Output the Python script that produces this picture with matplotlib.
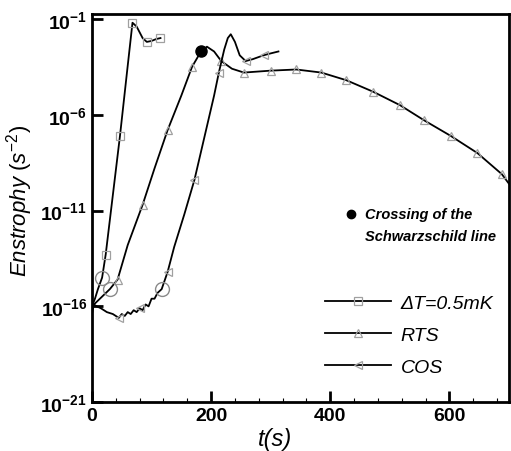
import numpy as np
import matplotlib
matplotlib.use("Agg")
import matplotlib.pyplot as plt
from matplotlib.ticker import FixedLocator, MultipleLocator, FuncFormatter

plt.rcParams['font.family'] = ['Liberation Sans', 'DejaVu Sans']
plt.rcParams['mathtext.fontset'] = 'custom'
plt.rcParams['mathtext.rm'] = 'Liberation Sans'
plt.rcParams['mathtext.it'] = 'Liberation Sans:italic'
plt.rcParams['mathtext.bf'] = 'Liberation Sans:bold'

# data: time (s) and log10 of enstrophy
t_dT = [0, 5, 10, 17, 23, 35, 47, 58, 68, 75, 85, 92, 100, 108, 115]
log_dT = [-16.0, -15.6, -15.1, -14.5, -13.3, -10.2, -7.1, -4.0, -1.2, -1.4, -2.0, -2.2, -2.15, -2.05, -2.0]

t_rts = [0, 10, 20, 30, 43, 60, 85, 105, 127, 150, 168, 183, 193, 205, 217, 235, 255,
         300, 343, 385, 427, 472, 517, 558, 602, 647, 688, 700]
log_rts = [-16.0, -15.7, -15.4, -15.1, -14.6, -12.8, -10.7, -8.8, -6.8, -5.0, -3.5, -2.7, -2.45,
           -2.7, -3.2, -3.6, -3.8, -3.7, -3.64, -3.8, -4.2, -4.8, -5.5, -6.3, -7.1, -8.0, -9.1, -9.6]

t_cos = [0, 3, 8, 15, 25, 35, 45, 50, 55, 60, 65, 70, 75, 80, 85, 90, 95, 100, 105, 110, 117,
         127, 138, 155, 172, 190, 205, 213, 222, 228, 233, 240, 248, 258, 270, 288, 300, 313]
log_cos = [-16.4, -15.9, -16.0, -16.1, -16.3, -16.4, -16.6, -16.4, -16.5, -16.3, -16.4, -16.2,
           -16.3, -16.1, -16.2, -15.9, -16.0, -15.6, -15.6, -15.3, -15.1, -14.2, -12.9, -11.2,
           -9.4, -7.0, -5.0, -3.8, -2.6, -2.0, -1.8, -2.2, -2.9, -3.2, -3.1, -2.9, -2.8, -2.7]

# open circles on the early part of each curve
t_circ = [17, 30, 117]
log_circ = [-14.5, -15.1, -15.1]

# crossing of the Schwarzschild line
t_cross = 183
log_cross = -2.7

fig = plt.figure(figsize=(5.11, 4.52), dpi=100)
ax = fig.add_axes([0.18, 0.108, 0.816, 0.859])

mk = dict(markerfacecolor='none', markeredgecolor='#a0a0a0', markersize=5.5, markeredgewidth=0.9)
l1, = ax.plot(t_dT, 10.0 ** np.array(log_dT), color='black', lw=1.3, marker='s',
              markevery=[4, 6, 8, 11, 14], **mk)
l2, = ax.plot(t_rts, 10.0 ** np.array(log_rts), color='black', lw=1.3, marker='^',
              markevery=[4, 6, 8, 10, 14, 16, 17, 18, 19, 20, 21, 22, 23, 24, 25, 26], **mk)
l3, = ax.plot(t_cos, 10.0 ** np.array(log_cos), color='black', lw=1.3, marker='<',
              markevery=[6, 13, 21, 24, 27, 33, 35], **mk)
ax.plot(t_circ, 10.0 ** np.array(log_circ), ls='none', marker='o', markersize=10,
        markerfacecolor='none', markeredgecolor='#8a8a8a', markeredgewidth=1.0)
ax.plot([t_cross], [10.0 ** log_cross], ls='none', marker='o', color='black', markersize=8)

ax.set_yscale('log')
ax.set_xlim(0, 700)
ax.set_ylim(1e-21, 10 ** -0.74)
ax.yaxis.set_major_locator(FixedLocator([1e-21, 1e-16, 1e-11, 1e-6, 1e-1]))
ax.yaxis.set_minor_locator(FixedLocator([]))
ax.yaxis.set_major_formatter(FuncFormatter(lambda v, p: r'$\mathbf{10^{%d}}$' % round(np.log10(v))))
ax.xaxis.set_major_locator(MultipleLocator(200))
ax.xaxis.set_minor_locator(MultipleLocator(40))
ax.xaxis.set_major_formatter(FuncFormatter(lambda v, p: '%d' % v))

for lab in ax.get_xticklabels():
    lab.set_fontweight('bold')
ax.tick_params(axis='both', which='major', direction='in', length=8, width=2, labelsize=14,
               top=False, right=False)
ax.tick_params(axis='x', which='minor', direction='in', length=3, width=0.8, top=False)
for s in ax.spines.values():
    s.set_linewidth(2)

ax.set_xlabel('t(s)', fontsize=17, style='italic')
ax.set_ylabel(r'$Enstrophy\ (s^{-2})$', fontsize=16)
ax.xaxis.set_label_coords(0.44, -0.065)
ax.yaxis.set_label_coords(-0.137, 0.52)

ax.legend([l1, l2, l3], ['ΔT=0.5mK', 'RTS', 'COS'], loc='center left',
          bbox_to_anchor=(0.535, 0.173), frameon=False, handlelength=3.4, numpoints=1,
          labelspacing=0.75, handletextpad=0.5, borderpad=0,
          prop=dict(family='Liberation Sans', style='italic', size=14))

ax.plot([0.622], [0.485], transform=ax.transAxes, marker='o', color='black', markersize=6)
ax.text(0.655, 0.485, 'Crossing of the', transform=ax.transAxes, fontsize=10.5,
        style='italic', weight='bold', va='center')
ax.text(0.655, 0.428, 'Schwarzschild line', transform=ax.transAxes, fontsize=10.5,
        style='italic', weight='bold', va='center')

fig.savefig('out.png', dpi=100)
